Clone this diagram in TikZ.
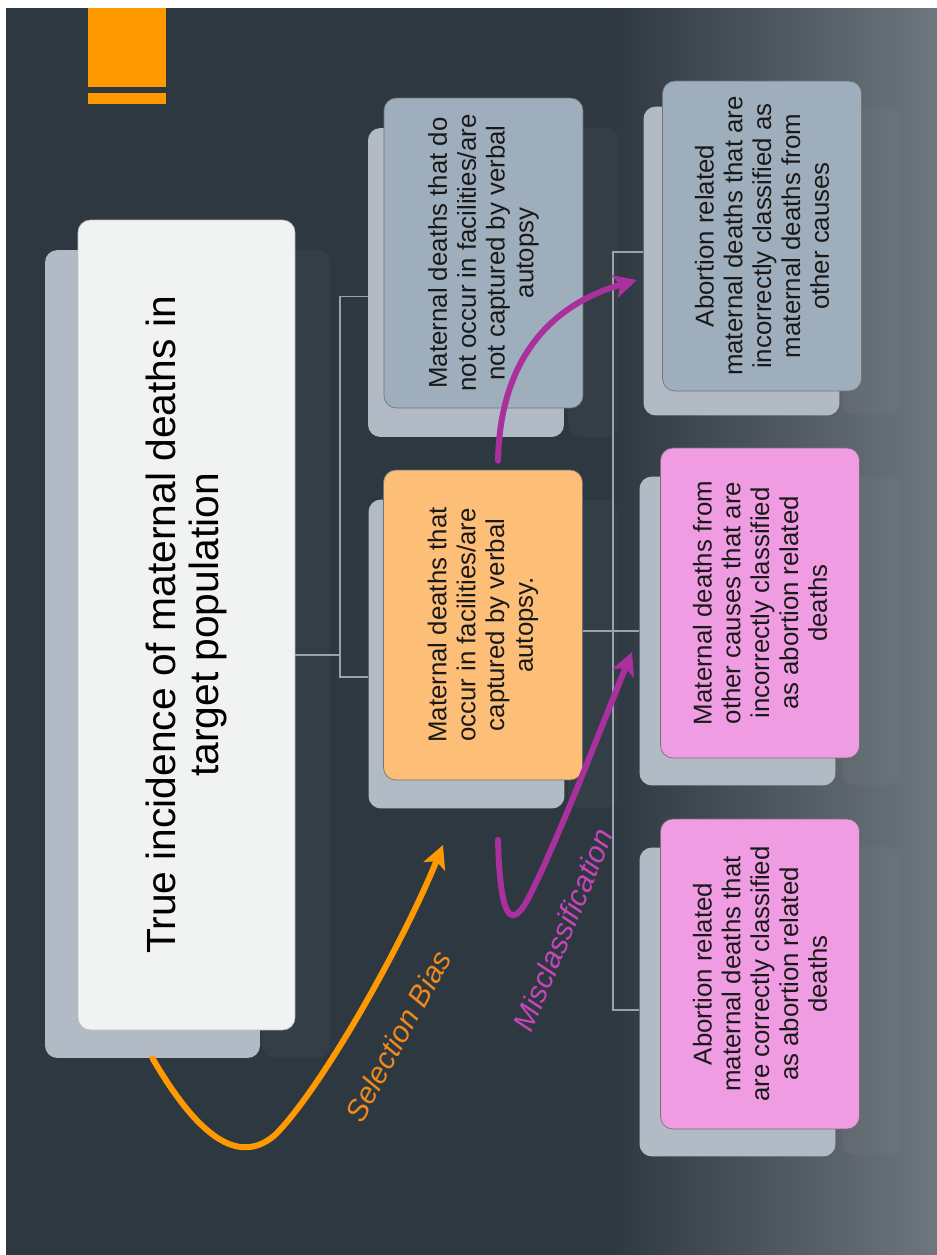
\documentclass[tikz,border=0pt]{standalone}
\usepackage{fontspec}
\setmainfont{Liberation Sans}
\usetikzlibrary{arrows.meta,calc,positioning}
\definecolor{slideBg}     {HTML}{2E3841}
\definecolor{slideBgR}    {HTML}{6E767E}
\definecolor{accentOrange}{HTML}{FF9900}
\definecolor{cardBack}    {HTML}{B2BBC5}
\definecolor{cardGray}    {HTML}{9FAEBC}
\definecolor{cardPeach}   {HTML}{FDBE78}
\definecolor{cardPink}    {HTML}{F09CE2}
\definecolor{cardWhite}   {HTML}{F1F2F2}
\definecolor{linkGray}    {HTML}{9AA2AA}
\definecolor{biasMagenta} {HTML}{A9309D}
\definecolor{biasMagTxt}  {HTML}{C646B9}
\definecolor{biasOrTxt}   {HTML}{EE8A1C}

\begin{document}
\begin{tikzpicture}[x=0.02cm, y=-0.02cm,
        every node/.style={font=\fontsize{14.7}{16.4}\selectfont, text=black!90},
        back/.style={fill=cardBack, rounded corners=7pt, rotate=90, inner sep=0pt, minimum width=6.18cm, minimum height=3.92cm},
        card/.style={draw=black!55, line width=0.4pt, rounded corners=7pt, rotate=90, align=center, inner sep=0pt, minimum width=6.2cm, minimum height=3.98cm},
        ghost/.style={fill=white, fill opacity=0.03, rounded corners=7pt},
        link/.style={draw=linkGray, line width=0.8pt},
        bias/.style={line width=3.4pt, line cap=round, -{Stealth[length=13pt, width=13pt, inset=3pt]}}
    ]
        \useasboundingbox (0,0) rectangle (937,1255);
        % slide background
        \fill[white] (0,0) rectangle (937,1255);
        \fill[slideBg] (6,8) rectangle (937,1255);
        \shade[left color=slideBg, right color=slideBgR] (610,8) rectangle (937,1255);
        \fill[accentOrange] (88,8) rectangle (166,87);
        \fill[accentOrange] (88,93) rectangle (166,104);
        % faint shadows behind the cards
        \fill[ghost] (262,250) rectangle (330,1058);
        \fill[ghost] (568,128) rectangle (618,437);
        \fill[ghost] (568,500) rectangle (618,808);
        \foreach \y in {107,477,847} {
            \fill[ghost] (842,\y) rectangle (900,\y+308);
        }

        % cards (back sheets first)
        \node[back, minimum width=16.16cm, minimum height=4.3cm] (titleback) at (152.5,654) {};
        \node[back] (notcapback) at (466,282.5) {};
        \node[back] (capback) at (466.5,654) {};
        \node[back] (misback) at (741.5,261) {};
        \node[back] (falseback) at (737.5,631) {};
        \node[back] (trueback) at (737.5,1002) {};

        % links
        \coordinate (lsplit) at (340,655);
        \coordinate (rsplit) at (613,631);
        \draw[link] ($(notcapback.north)+(0,14)$) -| (lsplit) |- ($(capback.north)+(0,23)$);
        \draw[link] ($(misback.north)+(0,-9)$) -| (rsplit) |- ($(trueback.north)+(0,8)$);

        \node[card, fill=cardWhite, draw=black!25, minimum width=16.2cm, minimum height=4.34cm,
              font=\fontsize{23.2}{24}\selectfont, text=black] (title) at (186.5,625)
            {True incidence of maternal deaths in\\target population};
        \node[card, fill=cardGray] (notcap) at (483.5,253)
            {Maternal deaths that do\\not occur in facilities/are\\not captured by verbal\\autopsy};
        \node[card, fill=cardPeach] (cap) at (483,625)
            {Maternal deaths that\\occur in facilities/are\\captured by verbal\\autopsy.};
        \node[card, fill=cardGray] (mis) at (762,236)
            {Abortion related\\maternal deaths that are\\incorrectly classified as\\maternal deaths from\\other causes};
        \node[card, fill=cardPink] (falsepos) at (760,603)
            {Maternal deaths from\\other causes that are\\incorrectly classified\\as abortion related\\deaths};
        \node[card, fill=cardPink] (truepos) at (760,974)
            {Abortion related\\maternal deaths that\\are correctly classified\\as abortion related\\deaths};

        \draw[link] (title.south |- lsplit) -- (lsplit);
        \draw[link] ($(cap.south)+(0,6)$) -- (falseback.north);

        % bias arrows
        \coordinate (sbend) at (443,845);
        \coordinate (mcstart) at (498,840);
        \coordinate (mcend) at (632,652);
        \coordinate (mcupend) at (637,280);
        \draw[bias, accentOrange] (titleback.west) .. controls (200,1140) and (240,1165) .. (275,1135)
            .. controls (320,1090) and (400,950) .. (sbend);
        \draw[bias, biasMagenta] (mcstart) .. controls (500,915) and (510,935) .. (530,895)
            .. controls (560,835) and (600,730) .. (mcend);
        \draw[bias, biasMagenta] ($(cap.east)+(15,-9)$) .. controls (500,360) and (550,305) .. (mcupend);

        \node[rotate=61.5, text=biasOrTxt, font=\itshape\fontsize{17}{19}\selectfont] (sblabel) at (398,1036) {Selection Bias};
        \node[rotate=67.7, text=biasMagTxt, font=\itshape\fontsize{17}{19}\selectfont] (mclabel) at (563,930) {Misclassification};
    \end{tikzpicture}
\end{document}
